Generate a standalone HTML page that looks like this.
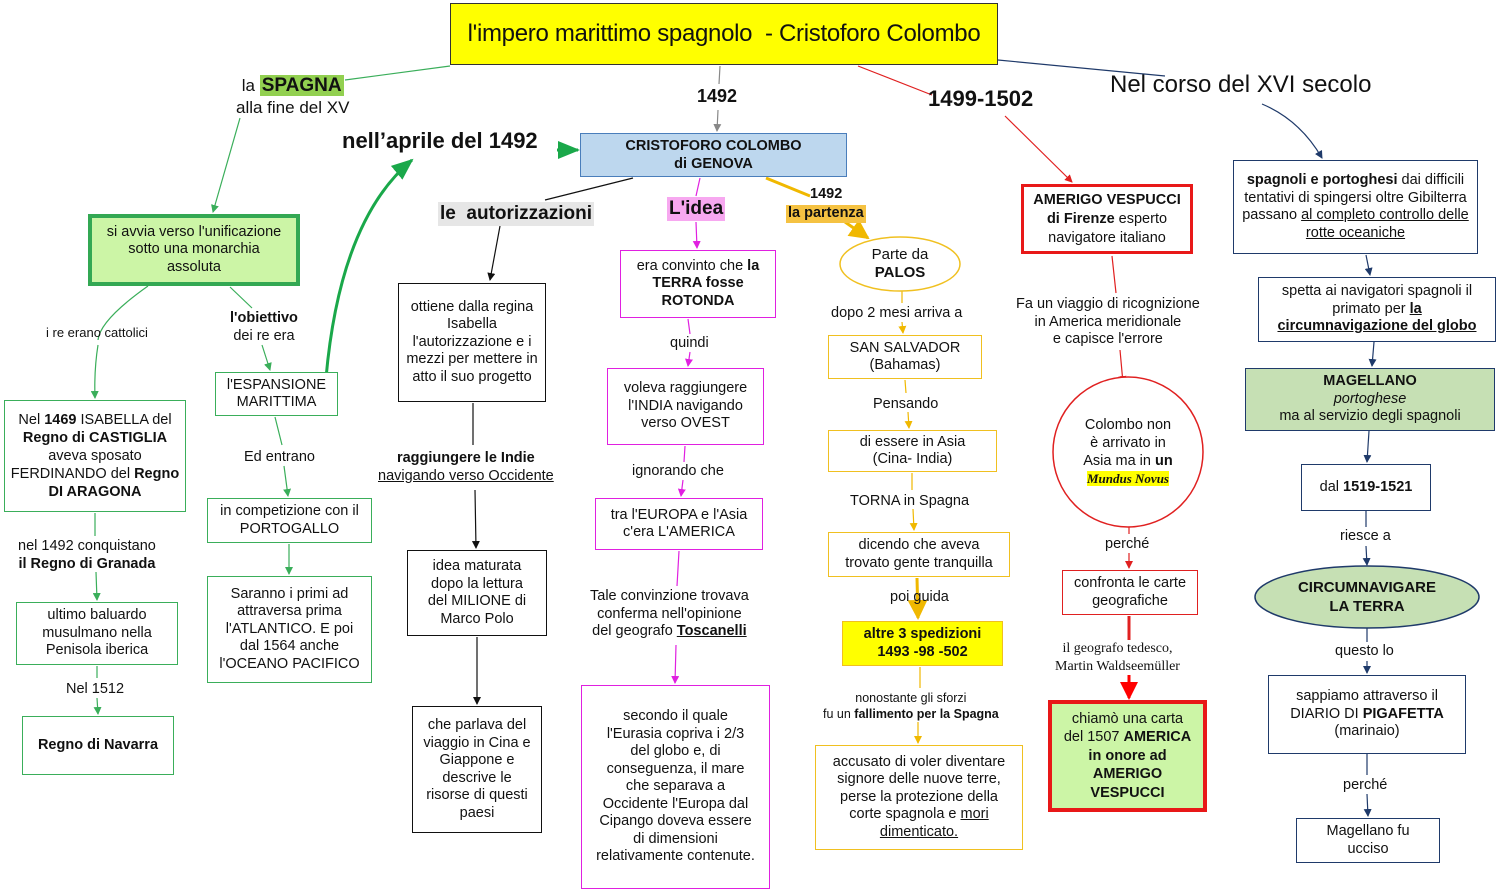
<!DOCTYPE html>
<html><head><meta charset="utf-8"><style>
*{margin:0;padding:0;box-sizing:border-box}
body{width:1500px;height:892px;background:#fff;position:relative;overflow:hidden;font-family:"Liberation Sans",Arial,sans-serif;color:#111}
.b{position:absolute;display:flex;align-items:center;justify-content:center;text-align:center;font-size:14.5px;line-height:17.5px;background:#fff;padding:0 6px}
.b>span{display:block}
.t{position:absolute;text-align:center;font-size:14.5px;line-height:17.5px;white-space:nowrap}
.g{border:1.5px solid #3aae5a}.m{border:1.5px solid #e020e0}.y{border:1.5px solid #f0c020}.k{border:1.5px solid #111}.r{border:1.5px solid #e02020}.n{border:1.5px solid #1f3a6a}
b{font-weight:bold}u{text-decoration:underline}
svg{position:absolute;left:0;top:0}
</style></head><body>
<svg width="1500" height="892">
<defs>
<marker id="ag" markerWidth="8" markerHeight="8" refX="7" refY="4" orient="auto" markerUnits="userSpaceOnUse"><path d="M0,0L8,4L0,8z" fill="#3aae5a"/></marker>
<marker id="agb" markerWidth="22" markerHeight="18" refX="20" refY="9" orient="auto" markerUnits="userSpaceOnUse"><path d="M0,0L22,9L0,18z" fill="#1aa84a"/></marker>
<marker id="ak" markerWidth="8" markerHeight="8" refX="7" refY="4" orient="auto" markerUnits="userSpaceOnUse"><path d="M0,0L8,4L0,8z" fill="#111"/></marker>
<marker id="agr" markerWidth="8" markerHeight="8" refX="7" refY="4" orient="auto" markerUnits="userSpaceOnUse"><path d="M0,0L8,4L0,8z" fill="#888"/></marker>
<marker id="am" markerWidth="8" markerHeight="8" refX="7" refY="4" orient="auto" markerUnits="userSpaceOnUse"><path d="M0,0L8,4L0,8z" fill="#e020e0"/></marker>
<marker id="ay" markerWidth="8" markerHeight="8" refX="7" refY="4" orient="auto" markerUnits="userSpaceOnUse"><path d="M0,0L8,4L0,8z" fill="#f0b800"/></marker>
<marker id="ayb" markerWidth="20" markerHeight="20" refX="18" refY="10" orient="auto" markerUnits="userSpaceOnUse"><path d="M0,0L20,10L0,20z" fill="#f0b800"/></marker>
<marker id="ar" markerWidth="8" markerHeight="8" refX="7" refY="4" orient="auto" markerUnits="userSpaceOnUse"><path d="M0,0L8,4L0,8z" fill="#e02020"/></marker>
<marker id="arb" markerWidth="18" markerHeight="18" refX="16" refY="9" orient="auto" markerUnits="userSpaceOnUse"><path d="M0,0L18,9L0,18z" fill="#ff0000"/></marker>
<marker id="an" markerWidth="8" markerHeight="8" refX="7" refY="4" orient="auto" markerUnits="userSpaceOnUse"><path d="M0,0L8,4L0,8z" fill="#1f3a6a"/></marker>
</defs>
<g fill="none" stroke-width="1.2">
<path d="M450,66 L345,80" stroke="#3aae5a"/>
<path d="M240,118 L213,212" stroke="#3aae5a" marker-end="url(#ag)"/>
<path d="M148,286 Q100,320 98,340 M98,345 Q94,370 95,398" stroke="#3aae5a" marker-end="url(#ag)"/>
<path d="M230,287 L252,308 M262,345 L270,370" stroke="#3aae5a" marker-end="url(#ag)"/>
<path d="M275,417 L282,445 M284,466 L288,496" stroke="#3aae5a" marker-end="url(#ag)"/>
<path d="M289,544 L289,574" stroke="#3aae5a" marker-end="url(#ag)"/>
<path d="M95,513 L95,536 M96,572 L97,600" stroke="#3aae5a" marker-end="url(#ag)"/>
<path d="M97,666 L97,678 M97,698 L98,714" stroke="#3aae5a" marker-end="url(#ag)"/>
<path d="M326,378 Q340,220 412,160" stroke="#1aa84a" stroke-width="3" marker-end="url(#agb)"/>
<path d="M557,150 L578,150" stroke="#1aa84a" stroke-width="3" marker-end="url(#agb)"/>
<path d="M720,66 L719,84 M718,110 L717,131" stroke="#888" marker-end="url(#agr)"/>
<path d="M858,66 L932,95" stroke="#e02020"/>
<path d="M1005,116 L1072,182" stroke="#e02020" marker-end="url(#ar)"/>
<path d="M998,60 L1165,76" stroke="#1f3a6a"/>
<path d="M1262,104 Q1300,120 1322,158" stroke="#1f3a6a" marker-end="url(#an)"/>
<path d="M633,178 L545,200 M500,226 L490,280" stroke="#111" marker-end="url(#ak)"/>
<path d="M473,403 L473,445 M475,490 L476,548" stroke="#111" marker-end="url(#ak)"/>
<path d="M477,637 L477,704" stroke="#111" marker-end="url(#ak)"/>
<path d="M700,178 L696,196 M696,222 L697,248" stroke="#e020e0" marker-end="url(#am)"/>
<path d="M688,319 L690,334 M690,352 L688,366" stroke="#e020e0" marker-end="url(#am)"/>
<path d="M685,446 L684,462 M683,480 L681,496" stroke="#e020e0" marker-end="url(#am)"/>
<path d="M679,551 L677,586 M676,645 L675,683" stroke="#e020e0" marker-end="url(#am)"/>
<path d="M766,178 L810,196" stroke="#f0b800" stroke-width="3"/>
<path d="M845,222 L868,238" stroke="#f0b800" stroke-width="3" marker-end="url(#ayb)"/>
<path d="M902,291 L902,303 M902,322 L903,333" stroke="#f0b800" marker-end="url(#ay)"/>
<path d="M905,380 L906,393 M908,412 L909,428" stroke="#f0b800" marker-end="url(#ay)"/>
<path d="M912,473 L912,490 M913,509 L914,530" stroke="#f0b800" marker-end="url(#ay)"/>
<path d="M917,578 L918,618" stroke="#f0b800" stroke-width="3" marker-end="url(#ayb)"/>
<path d="M920,667 L920,688 M918,722 L918,743" stroke="#f0b800" marker-end="url(#ay)"/>
<path d="M1112,256 L1116,293 M1120,350 L1123,383" stroke="#e02020" marker-end="url(#ar)"/>
<path d="M1129,519 L1129,534 M1129,553 L1129,568" stroke="#e02020" marker-end="url(#ar)"/>
<path d="M1129,616 L1129,640" stroke="#e02020" stroke-width="3"/>
<path d="M1129,675 L1129,698" stroke="#ff0000" stroke-width="3" marker-end="url(#arb)"/>
<path d="M1366,255 L1370,275" stroke="#1f3a6a" marker-end="url(#an)"/>
<path d="M1374,342 L1372,366" stroke="#1f3a6a" marker-end="url(#an)"/>
<path d="M1369,431 L1367,462" stroke="#1f3a6a" marker-end="url(#an)"/>
<path d="M1366,511 L1366,527 M1366,546 L1367,565" stroke="#1f3a6a" marker-end="url(#an)"/>
<path d="M1367,628 L1367,642 M1367,661 L1367,673" stroke="#1f3a6a" marker-end="url(#an)"/>
<path d="M1367,754 L1367,775 M1367,794 L1368,816" stroke="#1f3a6a" marker-end="url(#an)"/>
<ellipse cx="900" cy="264" rx="60" ry="27" stroke="#f0c020" stroke-width="1.5" fill="#fff"/>
<circle cx="1128" cy="452" r="75" stroke="#e02020" stroke-width="1.5" fill="#fff"/>
<ellipse cx="1367" cy="597" rx="112" ry="31" stroke="#1f3a6a" stroke-width="1.5" fill="#c6e0b4"/>
</g>
</svg>

<div class="b" style="left:450px;top:3px;width:548px;height:62px;background:#ffff00;border:1.5px solid #333;font-size:24px;letter-spacing:-0.3px"><span>l'impero marittimo spagnolo&nbsp;&nbsp;- Cristoforo Colombo</span></div>
<div class="t" style="left:236px;top:75px;font-size:17px;line-height:22px">la <b style="background:#92d050;padding:0 2px;font-size:19px">SPAGNA</b><br>alla fine del XV</div>
<div class="b" style="left:88px;top:214px;width:212px;height:72px;background:#ccf5a6;border:4px solid #33a853;padding:0 10px"><span>si avvia verso l'unificazione sotto una monarchia assoluta</span></div>
<div class="t" style="left:46px;top:324px;font-size:13px">i re erano cattolici</div>
<div class="t" style="left:230px;top:310px"><b>l'obiettivo</b><br>dei re era</div>
<div class="b g" style="left:4px;top:400px;width:182px;height:112px;line-height:18px;padding:0 4px"><span>Nel <b>1469</b> ISABELLA del <b>Regno di CASTIGLIA</b> aveva sposato FERDINANDO del <b>Regno DI ARAGONA</b></span></div>
<div class="b g" style="left:215px;top:372px;width:123px;height:44px"><span>l'ESPANSIONE MARITTIMA</span></div>
<div class="t" style="left:244px;top:449px">Ed entrano</div>
<div class="b g" style="left:207px;top:498px;width:165px;height:45px"><span>in competizione con il PORTOGALLO</span></div>
<div class="b g" style="left:207px;top:576px;width:165px;height:107px;padding:0 8px"><span>Saranno i primi ad attraversa prima l'ATLANTICO. E poi dal 1564 anche l'OCEANO PACIFICO</span></div>
<div class="t" style="left:18px;top:538px">nel 1492 conquistano<br><b>il Regno di Granada</b></div>
<div class="b g" style="left:16px;top:602px;width:162px;height:63px;padding:0 14px"><span>ultimo baluardo musulmano nella Penisola iberica</span></div>
<div class="t" style="left:66px;top:681px">Nel 1512</div>
<div class="b g" style="left:22px;top:716px;width:152px;height:59px"><span><b>Regno di Navarra</b></span></div>

<div class="t" style="left:342px;top:132px;font-size:22px;font-weight:bold">nell’aprile del 1492</div>
<div class="b" style="left:580px;top:133px;width:267px;height:44px;background:#bdd7ee;border:1.5px solid #4a7ebb;font-weight:bold;font-size:14.5px;line-height:18px"><span>CRISTOFORO COLOMBO<br>di GENOVA</span></div>
<div class="t" style="left:697px;top:88px;font-size:18px;font-weight:bold">1492</div>
<div class="t" style="left:928px;top:90px;font-size:22px;font-weight:bold">1499-1502</div>
<div class="t" style="left:1110px;top:76px;font-size:24px">Nel corso del XVI secolo</div>

<div class="t" style="left:438px;top:202px;font-size:19px;font-weight:bold;background:#e6e6e6;padding:0 2px;line-height:24px">le&nbsp; autorizzazioni</div>
<div class="b k" style="left:398px;top:283px;width:148px;height:119px;padding:0 4px"><span>ottiene dalla regina Isabella l'autorizzazione e i mezzi per mettere in atto il suo progetto</span></div>
<div class="t" style="left:378px;top:450px"><b>raggiungere le Indie</b><br><u>navigando verso Occidente</u></div>
<div class="b k" style="left:407px;top:550px;width:140px;height:86px;padding:0 12px"><span>idea maturata dopo la lettura del MILIONE di Marco Polo</span></div>
<div class="b k" style="left:412px;top:706px;width:130px;height:127px"><span>che parlava del viaggio in Cina e Giappone e descrive le risorse di questi paesi</span></div>

<div class="t" style="left:667px;top:197px;font-size:19px;font-weight:bold;background:#f7a8f0;padding:0 2px;line-height:24px">L'idea</div>
<div class="b m" style="left:620px;top:250px;width:156px;height:68px;padding:0 8px"><span>era convinto che <b>la TERRA fosse ROTONDA</b></span></div>
<div class="t" style="left:670px;top:335px">quindi</div>
<div class="b m" style="left:607px;top:368px;width:157px;height:77px;padding:0 8px"><span>voleva raggiungere l'INDIA navigando verso OVEST</span></div>
<div class="t" style="left:632px;top:463px">ignorando che</div>
<div class="b m" style="left:595px;top:498px;width:168px;height:52px"><span>tra l'EUROPA e l'Asia c'era L'AMERICA</span></div>
<div class="t" style="left:590px;top:588px">Tale convinzione trovava<br>conferma nell'opinione<br>del geografo <b><u>Toscanelli</u></b></div>
<div class="b m" style="left:581px;top:685px;width:189px;height:204px;padding:0 14px"><span>secondo il quale l'Eurasia copriva i 2/3 del globo e, di conseguenza, il mare che separava a Occidente l'Europa dal Cipango doveva essere di dimensioni relativamente contenute.</span></div>

<div class="t" style="left:810px;top:186px;font-weight:bold">1492</div>
<div class="t" style="left:786px;top:205px;font-weight:bold;background:#f5c242;padding:0 2px">la partenza</div>
<div class="t" style="left:840px;top:246px;width:120px;font-size:15px">Parte da<br><b>PALOS</b></div>
<div class="t" style="left:831px;top:305px">dopo 2 mesi arriva a</div>
<div class="b y" style="left:828px;top:335px;width:154px;height:44px"><span>SAN SALVADOR (Bahamas)</span></div>
<div class="t" style="left:873px;top:396px">Pensando</div>
<div class="b y" style="left:828px;top:430px;width:169px;height:42px"><span>di essere in Asia<br>(Cina- India)</span></div>
<div class="t" style="left:850px;top:493px">TORNA in Spagna</div>
<div class="b y" style="left:828px;top:532px;width:182px;height:45px;padding:0 10px"><span>dicendo che aveva trovato gente tranquilla</span></div>
<div class="t" style="left:890px;top:589px">poi guida</div>
<div class="b y" style="left:842px;top:621px;width:161px;height:45px;background:#ffff00;font-weight:bold"><span>altre 3 spedizioni<br>1493 -98 -502</span></div>
<div class="t" style="left:823px;top:690px;font-size:12.5px;line-height:16px">nonostante gli sforzi<br>fu un <b>fallimento per la Spagna</b></div>
<div class="b y" style="left:815px;top:745px;width:208px;height:105px;padding:0 8px"><span>accusato di voler diventare signore delle nuove terre, perse la protezione della corte spagnola e <u>mori dimenticato.</u></span></div>

<div class="b" style="left:1021px;top:184px;width:172px;height:70px;border:3.5px solid #e81818;line-height:19px;padding:0 2px"><span><b>AMERIGO VESPUCCI</b><br><b>di Firenze</b> esperto navigatore italiano</span></div>
<div class="t" style="left:1016px;top:296px">Fa un viaggio di ricognizione<br>in America meridionale<br>e capisce l'errore</div>
<div class="t" style="left:1068px;top:416px;width:120px;line-height:18px">Colombo non<br>è arrivato in<br>Asia ma in <b>un</b><br><i style="font-family:'Liberation Serif',serif;font-weight:bold;font-size:13px;background:#ffff00">Mundus Novus</i></div>
<div class="t" style="left:1105px;top:536px">perché</div>
<div class="b r" style="left:1062px;top:570px;width:136px;height:45px"><span>confronta le carte geografiche</span></div>
<div class="t" style="left:1055px;top:640px;font-family:'Liberation Serif',serif;font-size:14px">il geografo tedesco,<br>Martin Waldseemüller</div>
<div class="b" style="left:1048px;top:700px;width:159px;height:112px;background:#ccf5a6;border:4px solid #e81818;line-height:18.5px;padding:0 10px"><span>chiamò una carta del 1507 <b>AMERICA in onore ad AMERIGO VESPUCCI</b></span></div>

<div class="b n" style="left:1233px;top:160px;width:245px;height:94px;padding:0 8px"><span><b>spagnoli e portoghesi</b> dai difficili tentativi di spingersi oltre Gibilterra passano <u>al completo controllo delle rotte oceaniche</u></span></div>
<div class="b n" style="left:1258px;top:277px;width:238px;height:65px;padding:0 10px"><span>spetta ai navigatori spagnoli il primato per <b><u>la circumnavigazione del globo</u></b></span></div>
<div class="b n" style="left:1245px;top:368px;width:250px;height:63px;background:#c6e0b4"><span><b>MAGELLANO</b><br><i>portoghese</i><br>ma al servizio degli spagnoli</span></div>
<div class="b n" style="left:1301px;top:464px;width:130px;height:47px"><span>dal <b>1519-1521</b></span></div>
<div class="t" style="left:1340px;top:528px">riesce a</div>
<div class="t" style="left:1255px;top:578px;width:224px;font-weight:bold;font-size:15px;line-height:19px">CIRCUMNAVIGARE<br>LA TERRA</div>
<div class="t" style="left:1335px;top:643px">questo lo</div>
<div class="b n" style="left:1268px;top:675px;width:198px;height:79px;padding:0 14px"><span>sappiamo attraverso il DIARIO DI <b>PIGAFETTA</b><br>(marinaio)</span></div>
<div class="t" style="left:1343px;top:777px">perché</div>
<div class="b n" style="left:1296px;top:818px;width:144px;height:45px;padding:0 20px"><span>Magellano fu ucciso</span></div>
</body></html>
